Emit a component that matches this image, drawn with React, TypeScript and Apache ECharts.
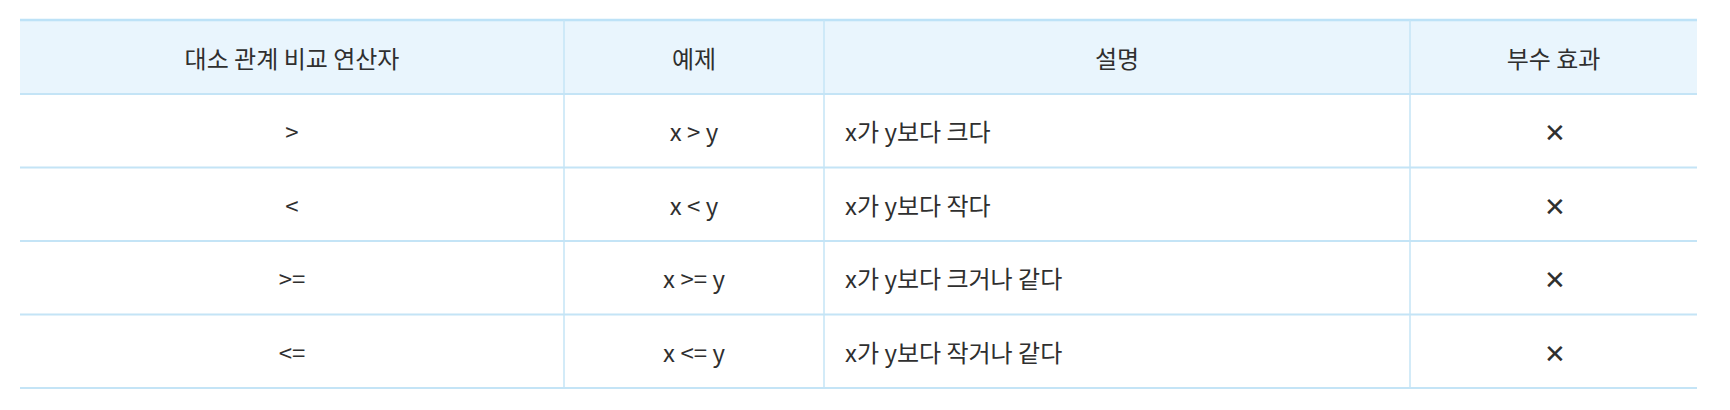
import React, { useEffect, useRef } from "react";
import * as echarts from "echarts";

const headers = ["대소 관계 비교 연산자", "예제", "설명", "부수 효과"];
const operators = [">", "<", ">=", "<="];
const examples = ["x > y", "x < y", "x >= y", "x <= y"];
const descriptions = ["x가 y보다 크다", "x가 y보다 작다", "x가 y보다 크거나 같다", "x가 y보다 작거나 같다"];
const sideEffects = ["✕", "✕", "✕", "✕"];

const colX = [20, 564, 824, 1410, 1697];
const top = 20;
const headH = 74;
const rowH = 73.5;
const lineC = "#c4e4f6";
const font = "'Noto Sans CJK KR', 'Noto Sans', sans-serif";

export default function App() {
  const ref = useRef<HTMLDivElement>(null);
  useEffect(() => {
    document.body.style.margin = "0";
    const chart = echarts.init(ref.current!, null, { renderer: "svg" });
    const els: any[] = [];
    const bottom = top + headH + rowH * operators.length;
    els.push({ type: "rect", shape: { x: colX[0], y: top, width: colX[4] - colX[0], height: headH }, style: { fill: "#e9f5fd" } });
    els.push({ type: "line", shape: { x1: colX[0], y1: top, x2: colX[4], y2: top }, style: { stroke: "#bde2f7", lineWidth: 2.5 } });
    const yLines: number[] = [top + headH];
    for (let i = 1; i <= operators.length; i++) yLines.push(top + headH + rowH * i);
    yLines.forEach((y) => {
      els.push({ type: "line", shape: { x1: colX[0], y1: y, x2: colX[4], y2: y }, style: { stroke: lineC, lineWidth: 2 } });
    });
    for (let c = 1; c < 4; c++) {
      els.push({ type: "line", shape: { x1: colX[c], y1: top, x2: colX[c], y2: bottom }, style: { stroke: lineC, lineWidth: 1.5 } });
    }
    const txt = (s: string, x: number, y: number, align: string, size = 24) => {
      els.push({ type: "text", x, y, style: { text: s, fill: "#2f2f2f", font: `${size}px ${font}`, align, verticalAlign: "middle" } });
    };
    headers.forEach((h, c) => txt(h, (colX[c] + colX[c + 1]) / 2, top + headH / 2, "center"));
    operators.forEach((_, r) => {
      const cy = top + headH + rowH * r + rowH / 2;
      txt(operators[r], (colX[0] + colX[1]) / 2, cy, "center");
      txt(examples[r], (colX[1] + colX[2]) / 2, cy, "center");
      txt(descriptions[r], 845, cy, "left");
      txt(sideEffects[r], (colX[3] + colX[4]) / 2 + 1, cy, "center", 26);
    });
    chart.setOption({ animation: false, backgroundColor: "#ffffff", graphic: els });
    return () => chart.dispose();
  }, []);
  return <div ref={ref} style={{ width: 1730, height: 410 }} />;
}
